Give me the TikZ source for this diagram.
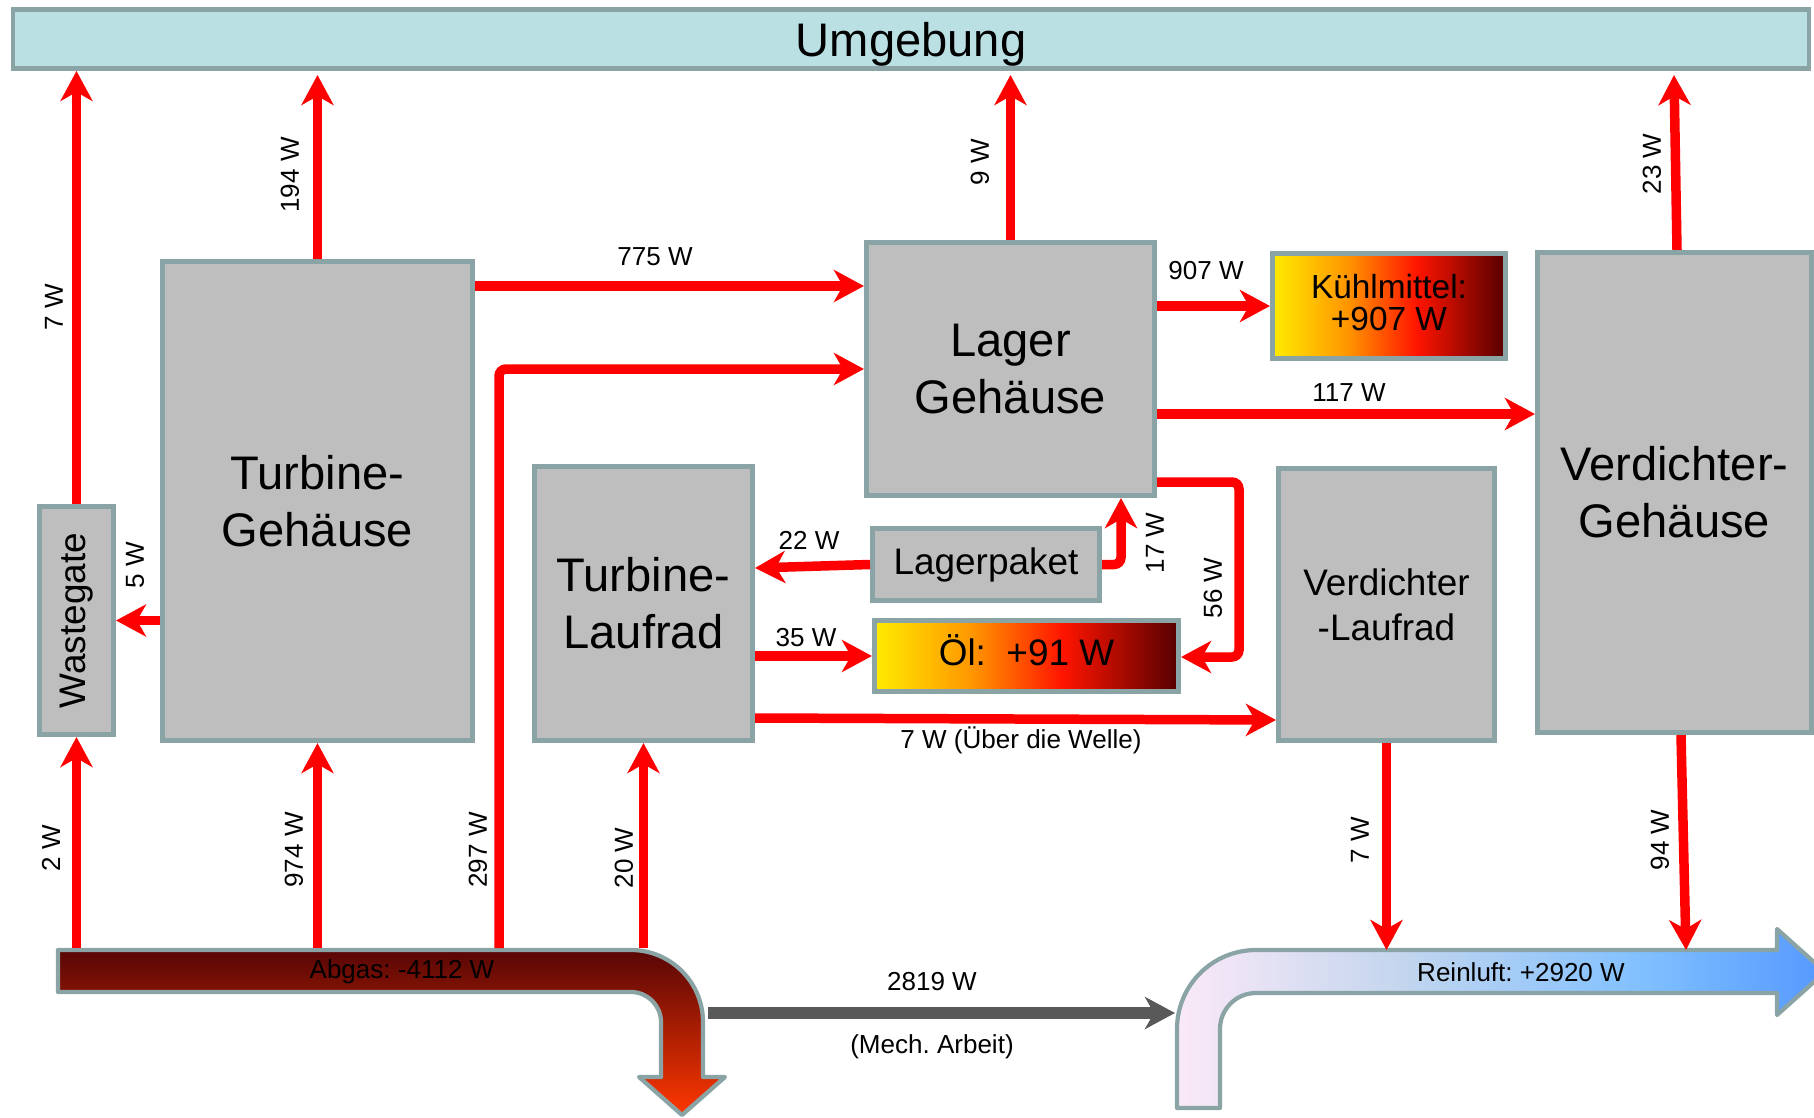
\documentclass[tikz,border=0pt]{standalone}
\usepackage{fontspec}
\setmainfont{Liberation Sans}
\usepackage{tikz}
\usetikzlibrary{arrows.meta,positioning,calc}
\usepackage{xcolor}
\definecolor{boxgray}{RGB}{190,190,190}
\definecolor{edgegray}{RGB}{138,164,166}
\definecolor{skyfill}{RGB}{186,224,227}
\definecolor{flowred}{RGB}{255,0,0}
\definecolor{mechgray}{RGB}{89,89,89}
\definecolor{heatyellow}{RGB}{255,236,0}
\definecolor{heatorange}{RGB}{255,150,0}
\definecolor{heatred}{RGB}{255,20,0}
\definecolor{heatdark}{RGB}{85,0,0}
\definecolor{exhdark}{RGB}{88,6,6}
\definecolor{exhmid}{RGB}{205,0,0}
\definecolor{exhlight}{RGB}{255,55,0}
\definecolor{airpink}{RGB}{251,233,248}
\definecolor{airpale}{RGB}{196,214,238}
\definecolor{airmid}{RGB}{128,192,255}
\definecolor{airblue}{RGB}{85,152,255}
\pgfdeclarehorizontalshading{heat}{100bp}{color(0bp)=(heatyellow); color(25bp)=(heatyellow); color(41bp)=(heatorange); color(56bp)=(heatred); color(75bp)=(heatdark); color(100bp)=(heatdark)}
\pgfdeclarehorizontalshading{airflow}{100bp}{color(0bp)=(airpink); color(25bp)=(airpink); color(42bp)=(airpale); color(61bp)=(airmid); color(75bp)=(airblue); color(100bp)=(airblue)}
\tikzset{
  box/.style={draw=edgegray,line width=1.4pt,fill=boxgray,inner sep=0pt,align=center},
  heatbox/.style={draw=edgegray,line width=1.4pt,shading=heat,inner sep=0pt,align=center},
  bigtext/.style={font=\fontsize{13.4}{16.2}\selectfont},
  midtext/.style={font=\fontsize{10.5}{12.8}\selectfont},
  lbl/.style={font=\fontsize{7.4}{9}\selectfont,inner sep=0pt},
  flow/.style={flowred,line width=2.7pt,-{Stealth[length=3mm,width=3.2mm,inset=0.9mm]}},
  mech/.style={mechgray,line width=3.3pt,-{Stealth[length=3mm,width=3.2mm,inset=0.9mm]}},
  pipe/.style={draw=edgegray,line width=1.2pt,line join=round}
}
\frenchspacing

\begin{document}
\begin{tikzpicture}[x=0.01cm,y=-0.01cm]
\useasboundingbox (0,0) rectangle (1814,1118);
\node[box,fill=skyfill,minimum width=17.95cm,minimum height=0.59cm,bigtext,text depth=0pt] (umg) at (911,39) {Umgebung};
\node[box,minimum width=0.74cm,minimum height=2.28cm] (wg) at (76.5,620.5) {};
\node[midtext,rotate=90,inner sep=0pt] (wgtext) at (wg.center) {Wastegate};
\node[box,minimum width=3.10cm,minimum height=4.79cm,bigtext] (tg) at (317.5,501) {Turbine-\\Gehäuse};
\node[box,minimum width=2.18cm,minimum height=2.74cm,bigtext] (tl) at (643.5,603.5) {Turbine-\\Laufrad};
\node[box,minimum width=2.88cm,minimum height=2.53cm,bigtext] (lg) at (1010.5,369) {Lager\\Gehäuse};
\node[box,minimum width=2.27cm,minimum height=0.72cm,midtext] (lp) at (986,564.5) {Lagerpaket};
\node[heatbox,minimum width=3.04cm,minimum height=0.71cm,midtext,text height=0.27cm,text depth=0.08cm] (oel) at (1026.5,656) {Öl:\ \ +91 W};
\node[heatbox,minimum width=2.33cm,minimum height=1.05cm,font=\fontsize{9.5}{9.3}\selectfont,text depth=0.07cm] (km) at (1389,306) {Kühlmittel:\\+907 W};
\node[box,minimum width=2.16cm,minimum height=2.72cm,midtext] (vl) at (1386.5,604.5) {Verdichter\\-Laufrad};
\node[box,minimum width=2.74cm,minimum height=4.80cm,bigtext] (vg) at (1674.5,492.5) {Verdichter-\\Gehäuse};

% Abgas und Reinluft
\draw[pipe,top color=exhdark,middle color=exhmid,bottom color=exhlight] (58,950) -- (631,950) arc[start angle=-90,end angle=0,radius=72] -- (703,1077) -- (725,1077) -- (682,1115) -- (639,1077) -- (661,1077) -- (661,1022) arc[start angle=0,end angle=-90,radius=30] -- (58,992) -- cycle;
\draw[pipe,shading=airflow] (1177,1108) -- (1177,1029) arc[start angle=180,end angle=270,radius=79] -- (1777,950) -- (1777,929) -- (1825,972) -- (1777,1015) -- (1777,993) -- (1256,993) arc[start angle=270,end angle=180,radius=36] -- (1220,1108) -- cycle;
\node[lbl] (labg) at (402,972) {Abgas: -4112 W};
\node[lbl] (lrein) at (1521,972) {Reinluft: +2920 W};
\coordinate (abgtop) at (0,948);
\coordinate (reintop) at (0,950);

\draw[flow] (wg.north) -- (wg.north |- umg.south);
\node[lbl,rotate=90] (l7a) at (54,307) {7 W};
\draw[flow] (tg.north) -- (tg.north |- 0,75);
\node[lbl,rotate=90] (l194) at (290,175) {194 W};
\draw[flow] (lg.north) -- (lg.north |- 0,75);
\node[lbl,rotate=90] (l9) at (980,162) {9 W};
\draw[flow] (1677,0 |- vg.north) -- (1674,75);
\node[lbl,rotate=90] (l23) at (1652,164) {23 W};
\draw[flow] (tg.east |- 0,286) -- (lg.west |- 0,286);
\node[lbl] (l775) at (655,257) {775 W};
\draw[flow,rounded corners=0.07cm] (499,0 |- abgtop) |- (lg.west |- 0,369);
\node[lbl,rotate=90] (l297) at (478,850) {297 W};
\draw[flow] (lg.east |- km.west) -- (km.west);
\node[lbl] (l907) at (1206,271) {907 W};
\draw[flow] (lg.east |- 0,414) -- (vg.west |- 0,414);
\node[lbl] (l117) at (1349,393) {117 W};
\draw[flow,rounded corners=0.07cm] (lg.east |- 0,482) -| (1239,657) -- (oel.east |- 0,657);
\node[lbl,rotate=90] (l56) at (1213,588) {56 W};
\draw[flow,rounded corners=0.07cm] (lp.east) -| (lg.south -| 1121,0);
\node[lbl,rotate=90] (l17) at (1155,543) {17 W};
\draw[flow] (lp.west) -- (tl.east |- 0,568);
\node[lbl] (l22) at (809,540) {22 W};
\draw[flow] (tl.east |- oel.west) -- (oel.west);
\node[lbl] (l35) at (806,638) {35 W};
\draw[flow] (tl.east |- 0,718) -- (vl.west |- 0,720);
\node[lbl] (lwelle) at (1021,740) {7 W (Über die Welle)};
\draw[flow] (tg.west |- wg.east) -- (wg.east);
\node[lbl,rotate=90] (l5) at (135,565) {5 W};
\draw[flow] (wg.south |- abgtop) -- (wg.south);
\node[lbl,rotate=90] (l2) at (51,848) {2 W};
\draw[flow] (tg.south |- abgtop) -- (tg.south);
\node[lbl,rotate=90] (l974) at (294,850) {974 W};
\draw[flow] (tl.south |- abgtop) -- (tl.south);
\node[lbl,rotate=90] (l20) at (624,858) {20 W};
\draw[flow] (vl.south) -- (vl.south |- reintop);
\node[lbl,rotate=90] (l7b) at (1360,840) {7 W};
\draw[flow] (1681,0 |- vg.south) -- (1686,0 |- reintop);
\node[lbl,rotate=90] (l94) at (1660,840) {94 W};

\coordinate (abgR) at (708,1013);
\coordinate (reinL) at (1175,1013);
\draw[mech] (abgR) -- (reinL);
\node[lbl] (l2819) at (932,982) {2819 W};
\node[lbl] (lmech) at (932,1047) {(Mech. Arbeit)};
\end{tikzpicture}
\end{document}
